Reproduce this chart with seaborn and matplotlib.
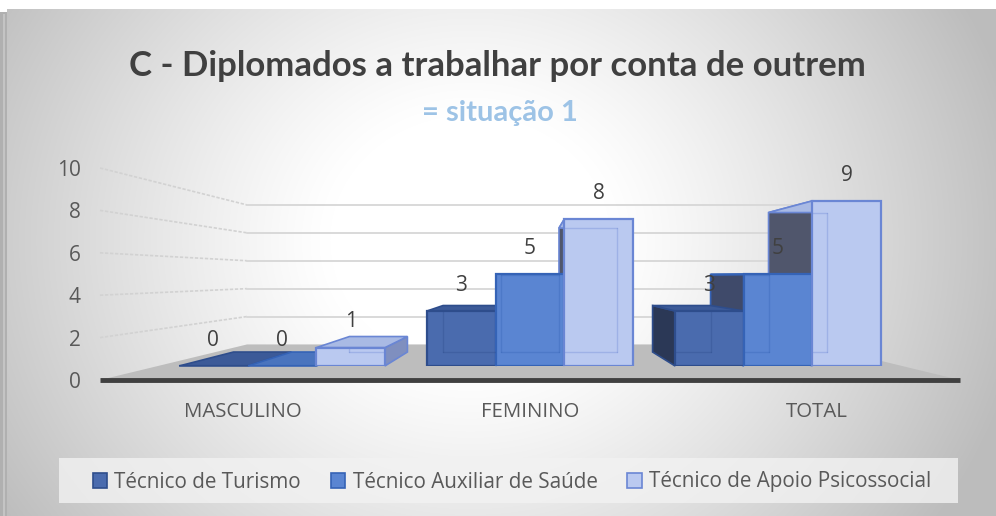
import numpy as np
import pandas as pd
import matplotlib
matplotlib.use("Agg")
import matplotlib.pyplot as plt
from matplotlib.patches import Polygon, Rectangle, Patch
from matplotlib.lines import Line2D
import seaborn as sns

# ---- data -------------------------------------------------------------
categorias = ["MASCULINO", "FEMININO", "TOTAL"]
cursos = ["Técnico de Turismo", "Técnico Auxiliar de Saúde",
          "Técnico de Apoio Psicossocial"]
turismo = [0, 3, 3]
auxiliar_saude = [0, 5, 5]
apoio_psicossocial = [1, 8, 9]
y_ticks = [0, 2, 4, 6, 8, 10]

titulo = "C - Diplomados a trabalhar por conta de outrem"
subtitulo = "= situação 1"

# ---- styling ----------------------------------------------------------
sns.set_style("white")
plt.rcParams["font.family"] = ["Open Sans", "DejaVu Sans"]
title_font = ["Lato", "DejaVu Sans"]

face_cols = ["#4A6BAE", "#5A85D2", "#BAC9F0"]
edge_cols = ["#2E4D8C", "#3563B6", "#6A86D4"]
top_cols = ["#3C5A98", "#4A74BE", "#A9BAE4"]
side_l_cols = ["#2B3856", "#3F4A6A", "#50566C"]
side_r_cols = ["#3A5590", "#4A70B8", "#7F8FBF"]
txt_dark = "#404040"
txt_mid = "#595959"

W, H = 996, 516
fig = plt.figure(figsize=(W / 100, H / 100), dpi=100)


def px_rect(l, t, r, b):
    return [l / W, 1 - b / H, (r - l) / W, (b - t) / H]


# ---- background: soft radial gradient with a frame shadow ---------------
ax_bg = fig.add_axes([0, 0, 1, 1])
ax_bg.set_xlim(0, W)
ax_bg.set_ylim(H, 0)
ax_bg.axis("off")
yy, xx = np.mgrid[0:H, 0:W]
t = np.sqrt(((xx - 470) / 560.0) ** 2 + ((yy - 240) / 500.0) ** 2)
f = np.clip((t - 0.25) / 0.75, 0, 1) ** 1.15
shade = 1 - 0.26 * f
img = np.dstack([shade, shade, shade])
img[:9, :, :] = 1.0
img[:, :7, :] = 1.0
ax_bg.imshow(img, extent=(0, W, H, 0), aspect="auto", interpolation="bilinear")
ax_bg.add_patch(Rectangle((0, 12), 7, H - 12, facecolor="#b0b0b0", edgecolor="none"))
ax_bg.add_patch(Rectangle((3, 14), 2, H - 14, facecolor="#c4c4c4", edgecolor="none"))
ax_bg.add_patch(Rectangle((59, 458), 899, 45, facecolor="#f2f2f2",
                          edgecolor="none", alpha=0.8))

# ---- perspective frame --------------------------------------------------
FRONT_L, FRONT_R, FRONT_B, FRONT_T = 100, 960, 380, 168
VPX, VPY = 530, 276
K_WALL = 0.658
K_BAR_FRONT = 0.865
K_BAR_BACK = 0.731

ax_front = fig.add_axes(px_rect(FRONT_L, FRONT_T, FRONT_R, FRONT_B))
ax_front.set_xlim(-0.5, len(categorias) - 0.5)
ax_front.set_ylim(0, 10)
ax_front.patch.set_alpha(0)
for s in ax_front.spines.values():
    s.set_visible(False)

vp_x = -0.5 + (VPX - FRONT_L) / (FRONT_R - FRONT_L) * len(categorias)
vp_y = (FRONT_B - VPY) / (FRONT_B - FRONT_T) * 10


def to_back(x, y, k):
    return (vp_x + (x - vp_x) * k, vp_y + (y - vp_y) * k)


x_lo, x_hi = -0.5, len(categorias) - 0.5
floor = Polygon([(x_lo, 0), (x_hi, 0), to_back(x_hi, 0, K_WALL), to_back(x_lo, 0, K_WALL)],
                closed=True, facecolor="#bdbdbd", edgecolor="none", zorder=1, clip_on=False)
ax_front.add_patch(floor)
for v in y_ticks[1:]:
    bx0, by0 = to_back(x_lo, v, K_WALL)
    bx1, _ = to_back(x_hi, v, K_WALL)
    ax_front.plot([x_lo, bx0], [v, by0], color="#d2d2d2", lw=1.2, ls=(0, (2, 1)),
                  zorder=1, clip_on=False)
    ax_front.plot([bx0, bx1], [by0, by0], color="#d9d9d9", lw=1.4, zorder=1, clip_on=False)
ax_front.plot([x_lo, x_hi], [0, 0], color="#404040", lw=3.5, solid_capstyle="butt",
              zorder=2, clip_on=False)

ax_front.set_yticks(y_ticks)
ax_front.set_yticklabels([str(v) for v in y_ticks], fontsize=15, color=txt_mid)
ax_front.set_xticks(range(len(categorias)))
ax_front.set_xticklabels(categorias, fontsize=14.7, color=txt_mid)
ax_front.tick_params(axis="y", length=0, pad=14)
ax_front.tick_params(axis="x", length=0, pad=15.5)

# ---- bars: front faces at the bar plane ----------------------------------
bl = VPX + (FRONT_L - VPX) * K_BAR_FRONT
br = VPX + (FRONT_R - VPX) * K_BAR_FRONT
bt = VPY + (FRONT_T - VPY) * K_BAR_FRONT
bb = VPY + (FRONT_B - VPY) * K_BAR_FRONT
ax_bar = fig.add_axes(px_rect(bl, bt, br, bb))

rows = []
for curso, valores in zip(cursos, [turismo, auxiliar_saude, apoio_psicossocial]):
    for cat, v in zip(categorias, valores):
        rows.append({"categoria": cat, "curso": curso, "valor": v})
df = pd.DataFrame(rows)

sns.barplot(data=df, x="categoria", y="valor", hue="curso", order=categorias,
            hue_order=cursos, palette=face_cols, saturation=1, width=0.83,
            legend=False, ax=ax_bar, zorder=3)
ax_bar.set_xlim(-0.5, len(categorias) - 0.5)
ax_bar.set_ylim(0, 10)
ax_bar.axis("off")

k = K_BAR_BACK / K_BAR_FRONT
faces = []
for si, cont in enumerate(ax_bar.containers):
    for bar in cont:
        bar.set_edgecolor(edge_cols[si])
        bar.set_linewidth(1.6)
        bar.set_zorder(3)
        faces.append((si, bar))

# draw depth faces from the outermost bars inwards
faces.sort(key=lambda sb: -abs(sb[1].get_x() + sb[1].get_width() / 2 - vp_x))
for n, (si, bar) in enumerate(faces):
    x0 = bar.get_x()
    x1 = x0 + bar.get_width()
    h = bar.get_height()
    z = 2 + n * 0.01
    top = [(x0, h), (x1, h), to_back(x1, h, k), to_back(x0, h, k)]
    ax_bar.add_patch(Polygon(top, closed=True, facecolor=top_cols[si],
                             edgecolor=edge_cols[si], lw=1.2, zorder=z + 0.005,
                             clip_on=False))
    if x1 <= vp_x:
        side = [(x1, 0), (x1, h), to_back(x1, h, k), to_back(x1, 0, k)]
        col = side_r_cols[si]
    elif x0 >= vp_x:
        side = [(x0, 0), (x0, h), to_back(x0, h, k), to_back(x0, 0, k)]
        col = side_l_cols[si]
    else:
        side = None
    if side is not None and h > 0:
        ax_bar.add_patch(Polygon(side, closed=True, facecolor=col,
                                 edgecolor=edge_cols[si], lw=1.2, zorder=z,
                                 clip_on=False))
    # hidden back edges seen through the translucent front
    if h > 0:
        bx0, by0 = to_back(x0, 0, k)
        bx1, by1 = to_back(x1, h, k)
        for xs, ys in [([bx0, bx1], [by0, by0]), ([bx0, bx1], [by1, by1]),
                       ([bx0, bx0], [by0, by1]), ([bx1, bx1], [by0, by1])]:
            ln = Line2D(xs, ys, color=edge_cols[si], lw=1.0, alpha=0.35, zorder=3.5)
            ax_bar.add_line(ln)
            ln.set_clip_path(bar)

for cont in ax_bar.containers:
    for lab in ax_bar.bar_label(cont, padding=11, fontsize=15, color=txt_dark):
        lab.set_zorder(10)

# ---- titles and legend -----------------------------------------------------
fig.text(497 / W, 1 - 66 / H, titulo, ha="center", va="center", fontsize=25,
         fontweight="bold", color=txt_dark, family=title_font)
fig.text(500 / W, 1 - 113 / H, subtitulo, ha="center", va="center", fontsize=21,
         fontweight="bold", color="#9DC3E6", family=title_font)

handles = [Patch(facecolor=fc, edgecolor=ec, lw=1.2) for fc, ec in zip(face_cols, edge_cols)]
fig.legend(handles, cursos, loc="center", bbox_to_anchor=(512 / W, 1 - 482 / H),
           ncol=3, frameon=False, fontsize=14.9, handlelength=0.7, handleheight=0.7,
           handletextpad=0.35, columnspacing=1.45, labelcolor=txt_mid)

fig.savefig("out.png", dpi=100)
